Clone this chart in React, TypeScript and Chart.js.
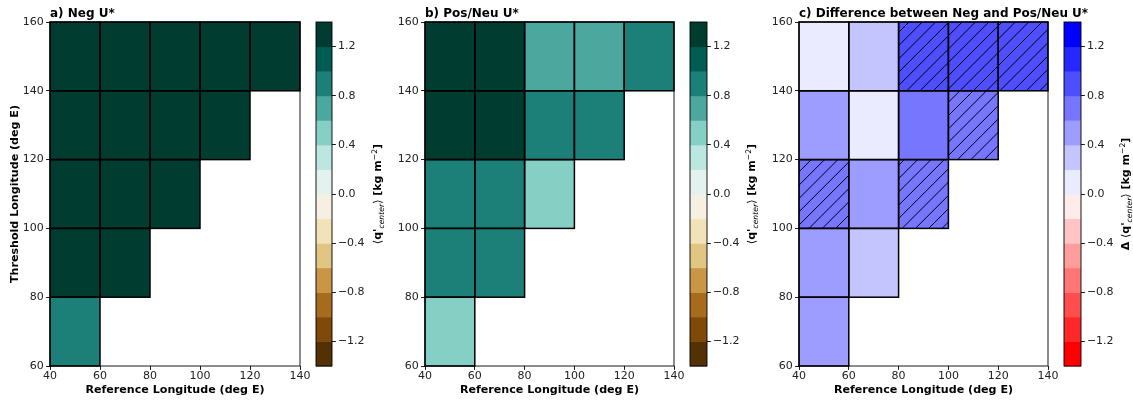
import React, { useEffect, useRef } from 'react';
import { Chart, registerables } from 'chart.js';

Chart.register(...registerables);

const W = 1133;
const H = 400;
const FONT = "'DejaVu Sans', 'Noto Sans', sans-serif";
Chart.defaults.font.family = FONT;

// ---------------- data ----------------
const REF_LONS = [40, 60, 80, 100, 120]; // cell left edges (deg E)
const THRESH_LONS = [60, 80, 100, 120, 140]; // cell bottom edges (deg E)
const CELL = 20;

// rows follow THRESH_LONS, columns follow REF_LONS
const NEG_VALUES: (number | null)[][] = [
  [0.9, null, null, null, null],
  [1.32, 1.34, null, null, null],
  [1.33, 1.35, 1.31, null, null],
  [1.36, 1.34, 1.33, 1.31, null],
  [1.35, 1.36, 1.34, 1.33, 1.32],
];
const POS_VALUES: (number | null)[][] = [
  [0.5, null, null, null, null],
  [0.9, 0.92, null, null, null],
  [0.9, 0.88, 0.5, null, null],
  [1.3, 1.32, 0.9, 0.88, null],
  [1.31, 1.3, 0.7, 0.72, 0.9],
];
const DIFF_VALUES: (number | null)[][] = [
  [0.5, null, null, null, null],
  [0.48, 0.3, null, null, null],
  [0.7, 0.5, 0.68, null, null],
  [0.5, 0.1, 0.7, 0.66, null],
  [0.1, 0.3, 0.9, 0.92, 0.88],
];
const DIFF_SIGNIF: boolean[][] = [
  [false, false, false, false, false],
  [false, false, false, false, false],
  [true, false, true, false, false],
  [false, false, false, true, false],
  [false, false, true, true, true],
];

const X_TICKS = [40, 60, 80, 100, 120, 140];
const Y_TICKS = [60, 80, 100, 120, 140, 160];
const LEVELS = [-1.4, -1.2, -1.0, -0.8, -0.6, -0.4, -0.2, 0.0, 0.2, 0.4, 0.6, 0.8, 1.0, 1.2, 1.4];
const CB_TICKS = [-1.2, -0.8, -0.4, 0.0, 0.4, 0.8, 1.2];
const CB_TICK_LABELS = ['\u22121.2', '\u22120.8', '\u22120.4', '0.0', '0.4', '0.8', '1.2'];

// BrBG, 14 bins (bottom to top)
const BRBG = [
  '#543005', '#7f4909', '#a76b1d', '#c99546', '#e1c582', '#f2e2b8', '#f5f0e2',
  '#e3f1ef', '#bce6e0', '#86cfc4', '#4ca89e', '#1d8078', '#015c53', '#003c30',
];
// bwr reversed, 14 bins (bottom to top)
const BWR_R = [
  '#ff0000', '#ff2727', '#ff4e4e', '#ff7676', '#ff9d9d', '#ffc4c4', '#ffebeb',
  '#ebebff', '#c4c4ff', '#9d9dff', '#7676ff', '#4e4eff', '#2727ff', '#0000ff',
];

// ---------------- plugins ----------------
function colorFor(v: number, colors: string[]) {
  let i = 0;
  while (i < LEVELS.length - 2 && v >= LEVELS[i + 1]) i++;
  return colors[i];
}

const heatPlugin = {
  id: 'heatCells',
  beforeDatasetsDraw(chart: any, _args: any, opts: any) {
    const { ctx, scales } = chart;
    const xs = scales.x;
    const ys = scales.y;
    const cells = chart.data.datasets[0].data as any[];
    ctx.save();
    cells.forEach((c) => {
      const x0 = xs.getPixelForValue(c.x);
      const x1 = xs.getPixelForValue(c.x + CELL);
      const y0 = ys.getPixelForValue(c.y + CELL);
      const y1 = ys.getPixelForValue(c.y);
      ctx.fillStyle = colorFor(c.v, opts.colors);
      ctx.fillRect(x0, y0, x1 - x0, y1 - y0);
      if (c.h) {
        ctx.save();
        ctx.beginPath();
        ctx.rect(x0, y0, x1 - x0, y1 - y0);
        ctx.clip();
        ctx.strokeStyle = '#000';
        ctx.lineWidth = 1;
        ctx.beginPath();
        const step = 13.3;
        for (let s = Math.floor((x0 + y0) / step) * step; s <= x1 + y1 + step; s += step) {
          // line x + y = s
          ctx.moveTo(s - y1, y1);
          ctx.lineTo(s - y0, y0);
        }
        ctx.stroke();
        ctx.restore();
      }
    });
    cells.forEach((c) => {
      const x0 = xs.getPixelForValue(c.x);
      const x1 = xs.getPixelForValue(c.x + CELL);
      const y0 = ys.getPixelForValue(c.y + CELL);
      const y1 = ys.getPixelForValue(c.y);
      ctx.strokeStyle = '#000';
      ctx.lineWidth = 1.5;
      ctx.strokeRect(x0, y0, x1 - x0, y1 - y0);
    });
    ctx.restore();
  },
  afterDraw(chart: any, _args: any, opts: any) {
    const { ctx, chartArea } = chart;
    ctx.save();
    ctx.strokeStyle = '#000';
    ctx.lineWidth = 0.9;
    ctx.strokeRect(chartArea.left, chartArea.top, chartArea.right - chartArea.left, chartArea.bottom - chartArea.top);
    // panel title, left-aligned on the plot area, free to run past its right edge
    ctx.font = `bold 12px ${FONT}`;
    ctx.fillStyle = '#000';
    ctx.textAlign = 'left';
    ctx.textBaseline = 'alphabetic';
    ctx.fillText(opts.title, chartArea.left, 16.5);
    ctx.restore();
  },
};

const colorbarPlugin = {
  id: 'colorbar',
  beforeDatasetsDraw(chart: any, _args: any, opts: any) {
    const { ctx, scales, chartArea } = chart;
    const ys = scales.y;
    ctx.save();
    for (let i = 0; i < LEVELS.length - 1; i++) {
      const yTop = ys.getPixelForValue(LEVELS[i + 1]);
      const yBot = ys.getPixelForValue(LEVELS[i]);
      ctx.fillStyle = opts.colors[i];
      ctx.fillRect(chartArea.left, yTop, chartArea.right - chartArea.left, yBot - yTop + 0.5);
    }
    ctx.strokeStyle = '#000';
    ctx.lineWidth = 0.9;
    ctx.strokeRect(chartArea.left, chartArea.top, chartArea.right - chartArea.left, chartArea.bottom - chartArea.top);
    ctx.restore();
  },
  afterDraw(chart: any, _args: any, opts: any) {
    const { ctx } = chart;
    const segs: { t: string; f: string; dy: number }[] = [];
    if (opts.delta) segs.push({ t: '\u0394 ', f: `bold 11px ${FONT}`, dy: 0 });
    segs.push({ t: '\u27e8', f: `11px ${FONT}`, dy: 0 });
    segs.push({ t: "q'", f: `bold 11px ${FONT}`, dy: 0 });
    segs.push({ t: 'center', f: `italic 7.7px ${FONT}`, dy: 2.8 });
    segs.push({ t: '\u27e9', f: `11px ${FONT}`, dy: 0 });
    segs.push({ t: ' [kg m', f: `bold 11px ${FONT}`, dy: 0 });
    segs.push({ t: '\u22122', f: `7.7px ${FONT}`, dy: -4.5 });
    segs.push({ t: ']', f: `bold 11px ${FONT}`, dy: 0 });
    ctx.save();
    let total = 0;
    const widths = segs.map((s) => {
      ctx.font = s.f;
      const w = ctx.measureText(s.t).width;
      total += w;
      return w;
    });
    ctx.translate(opts.labelX, opts.labelY);
    ctx.rotate(-Math.PI / 2);
    ctx.fillStyle = '#000';
    ctx.textBaseline = 'alphabetic';
    ctx.textAlign = 'left';
    let x = -total / 2;
    segs.forEach((s, i) => {
      ctx.font = s.f;
      ctx.fillText(s.t, x, 4 + s.dy);
      x += widths[i];
    });
    ctx.restore();
  },
};

// ---------------- configs ----------------
const tickFont = { size: 11 };
const tickColor = '#222';
const TICK_LEN = 3.9;

function panelConfig(p: {
  left: number;
  right: number;
  title: string;
  values: (number | null)[][];
  hatch?: boolean[][];
  colors: string[];
  yTitle: boolean;
}) {
  const cells: any[] = [];
  THRESH_LONS.forEach((y, r) =>
    REF_LONS.forEach((x, c) => {
      const v = p.values[r][c];
      if (v !== null) cells.push({ x, y, v, h: p.hatch ? p.hatch[r][c] : false });
    })
  );
  return {
    type: 'scatter',
    data: { datasets: [{ data: cells, pointRadius: 0, pointHoverRadius: 0 }] },
    options: {
      responsive: false,
      animation: false,
      events: [],
      layout: { padding: { left: p.left - 50, right: W - p.right, top: 22, bottom: 0 } },
      plugins: {
        legend: { display: false },
        tooltip: { enabled: false },
        title: { display: false },
        heatCells: { colors: p.colors, title: p.title },
      },
      scales: {
        x: {
          type: 'linear',
          min: 40,
          max: 140,
          afterFit: (s: any) => {
            s.height = 34;
          },
          afterBuildTicks: (s: any) => {
            s.ticks = X_TICKS.map((v) => ({ value: v }));
          },
          ticks: { font: tickFont, color: tickColor, padding: 0, maxRotation: 0, autoSkip: false },
          grid: { drawOnChartArea: false, drawTicks: true, tickLength: TICK_LEN, color: '#000', lineWidth: 0.9 },
          border: { display: false },
          title: {
            display: true,
            text: 'Reference Longitude (deg E)',
            color: '#000',
            font: { size: 11.1, weight: 'bold' },
            padding: { top: 0, bottom: 3.3 },
          },
        },
        y: {
          type: 'linear',
          min: 60,
          max: 160,
          afterFit: (s: any) => {
            s.width = 50;
          },
          afterBuildTicks: (s: any) => {
            s.ticks = Y_TICKS.map((v) => ({ value: v }));
          },
          ticks: { font: tickFont, color: tickColor, padding: 2.3, autoSkip: false },
          grid: { drawOnChartArea: false, drawTicks: true, tickLength: TICK_LEN, color: '#000', lineWidth: 0.9 },
          border: { display: false },
          title: {
            display: p.yTitle,
            text: 'Threshold Longitude (deg E)',
            color: '#000',
            font: { size: 11.1, weight: 'bold' },
            padding: { top: 8.3, bottom: 0 },
          },
        },
      },
    },
    plugins: [heatPlugin],
  };
}

function colorbarConfig(p: { left: number; right: number; colors: string[]; labelX: number; delta: boolean }) {
  return {
    type: 'scatter',
    data: { datasets: [{ data: [], pointRadius: 0 }] },
    options: {
      responsive: false,
      animation: false,
      events: [],
      layout: { padding: { left: p.left, right: W - p.right - 40, top: 22, bottom: 34 } },
      plugins: {
        legend: { display: false },
        tooltip: { enabled: false },
        colorbar: { colors: p.colors, labelX: p.labelX, labelY: 194, delta: p.delta },
      },
      scales: {
        x: { type: 'linear', display: false, min: 0, max: 1 },
        y: {
          type: 'linear',
          position: 'right',
          min: -1.4,
          max: 1.4,
          afterFit: (s: any) => {
            s.width = 40;
          },
          afterBuildTicks: (s: any) => {
            s.ticks = CB_TICKS.map((v) => ({ value: v }));
          },
          ticks: {
            font: tickFont,
            color: tickColor,
            padding: 2,
            autoSkip: false,
            callback: (_v: any, i: number) => CB_TICK_LABELS[i],
          },
          grid: { drawOnChartArea: false, drawTicks: true, tickLength: TICK_LEN, color: '#000', lineWidth: 0.9 },
          border: { display: false },
        },
      },
    },
    plugins: [colorbarPlugin],
  };
}

// ---------------- components ----------------
function ChartCanvas({ make }: { make: () => any }) {
  const ref = useRef<HTMLCanvasElement>(null);
  useEffect(() => {
    const chart = new Chart(ref.current as HTMLCanvasElement, make());
    return () => chart.destroy();
  }, []);
  return (
    <canvas
      ref={ref}
      width={W}
      height={H}
      style={{ position: 'absolute', left: 0, top: 0, width: W, height: H }}
    />
  );
}

export default function App() {
  return (
    <div style={{ position: 'absolute', left: 0, top: 0, width: W, height: H, background: '#fff' }}>
      <ChartCanvas
        make={() =>
          panelConfig({ left: 50, right: 300, title: 'a) Neg U*', values: NEG_VALUES, colors: BRBG, yTitle: true })
        }
      />
      <ChartCanvas make={() => colorbarConfig({ left: 316, right: 332, colors: BRBG, labelX: 377, delta: false })} />
      <ChartCanvas
        make={() =>
          panelConfig({ left: 425, right: 674, title: 'b) Pos/Neu U*', values: POS_VALUES, colors: BRBG, yTitle: false })
        }
      />
      <ChartCanvas make={() => colorbarConfig({ left: 690, right: 707, colors: BRBG, labelX: 751, delta: false })} />
      <ChartCanvas
        make={() =>
          panelConfig({
            left: 799,
            right: 1048,
            title: 'c) Difference between Neg and Pos/Neu U*',
            values: DIFF_VALUES,
            hatch: DIFF_SIGNIF,
            colors: BWR_R,
            yTitle: false,
          })
        }
      />
      <ChartCanvas make={() => colorbarConfig({ left: 1064, right: 1081, colors: BWR_R, labelX: 1125, delta: true })} />
    </div>
  );
}
